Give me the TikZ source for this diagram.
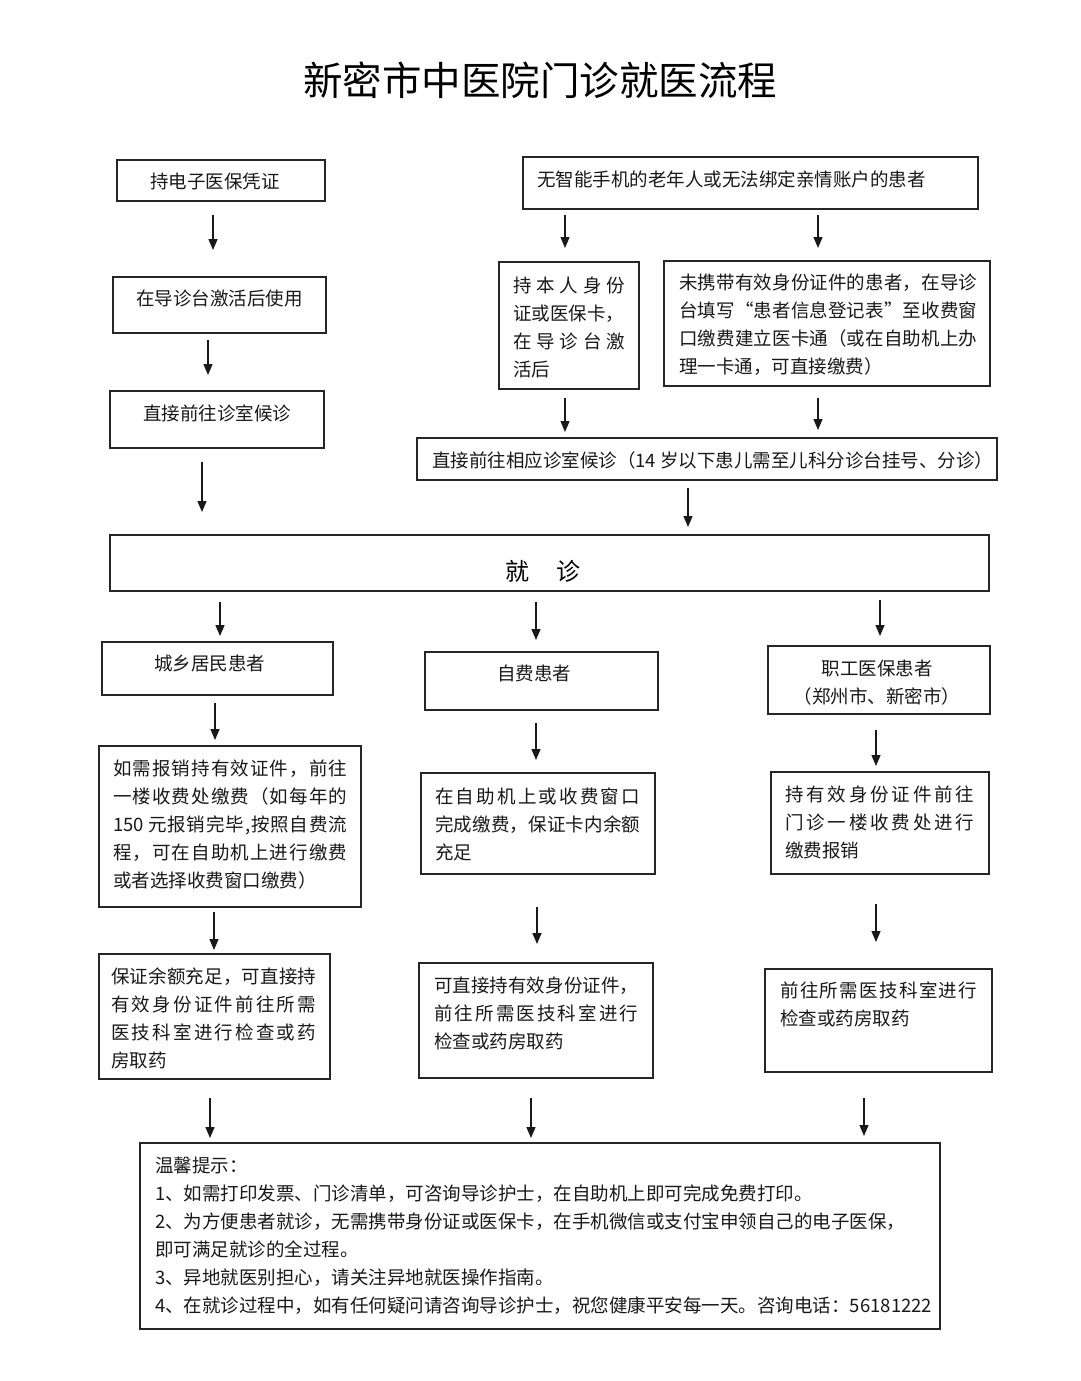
\documentclass[tikz,border=0pt]{standalone}
\usepackage{fontspec}
\setmainfont{Noto Sans CJK SC}
\usetikzlibrary{arrows.meta}
\def\sprd#1{\sprdA#1\relax}
\def\sprdA#1#2{#1\ifx\relax#2\else\hfil\expandafter\sprdA\expandafter#2\fi}
\newcommand\jl[2]{\makebox[#1pt][s]{\sprd{#2}}}
\newcommand\bodyfont{\fontsize{18.5pt}{28pt}\selectfont}
\tikzset{
  box/.style={draw=black!85, line width=1.3pt, rectangle, inner sep=0pt},
  txt/.style={inner sep=0pt, anchor=west, align=left, font=\bodyfont, text=black!90},
  arr/.style={line width=1.3pt, draw=black!90, -{Triangle[length=11pt,width=9pt]}}
}
\newcommand\bx[5]{\node[box,minimum width={#4pt-#2pt},minimum height={#5pt-#3pt}] (#1) at ({(#2+#4)/2},{(#3+#5)/2}) {};}
\newcommand\ar[4]{\coordinate (#1s) at (#2,#3); \coordinate (#1e) at (#2,#4); \draw[arr] (#1s) -- (#1e);}
\begin{document}
\begin{tikzpicture}[x=1pt,y=-1pt]
\fill[white] (0,0) rectangle (1080,1381);
\useasboundingbox (0,0) rectangle (1080,1381);

\node[inner sep=0pt, font=\fontsize{39.5pt}{44pt}\selectfont] (title) at (540,80) {新密市中医院门诊就医流程};

% boxes
\bx{b1}{117}{160}{325}{201}
\bx{b2}{523}{157}{978}{209}
\bx{b3}{113}{277}{326}{333}
\bx{b4}{499}{262}{639}{389}
\bx{b5}{664}{261}{990}{386}
\bx{b6}{110}{391}{324}{448}
\bx{b7}{417}{438}{997}{480}
\bx{b8}{110}{535}{989}{591}
\bx{b9}{102}{642}{333}{695}
\bx{b10}{425}{652}{658}{710}
\bx{b11}{768}{646}{990}{714}
\bx{b12}{99}{746}{361}{907}
\bx{b13}{421}{773}{655}{874}
\bx{b14}{771}{772}{989}{874}
\bx{b15}{99}{954}{330}{1079}
\bx{b16}{419}{963}{653}{1078}
\bx{b17}{765}{969}{992}{1072}
\bx{b18}{140}{1143}{940}{1329}

% texts
\node[txt] (t1) at (150,181) {持电子医保凭证};
\node[txt] (t2) at (537,179) {无智能手机的老年人或无法绑定亲情账户的患者};
\node[txt] (t3) at (136,298) {在导诊台激活后使用};
\node[txt] (t4) at (513,327) {\jl{112}{持本人身份}\\证或医保卡，\\\jl{112}{在导诊台激}\\活后};
\node[txt] (t5) at (679,324.5) {\jl{298}{未携带有效身份证件的患者，在导诊}\\\jl{298}{台填写“患者信息登记表”至收费窗}\\\jl{298}{口缴费建立医卡通（或在自助机上办}\\理一卡通，可直接缴费）};
\node[txt] (t6) at (143,413) {直接前往诊室候诊};
\node[txt] (t7) at (432,460) {直接前往相应诊室候诊（14 岁以下患儿需至儿科分诊台挂号、分诊）};
\node[inner sep=0pt, font=\fontsize{24pt}{28pt}\selectfont] (t8) at (543,571) {就\hspace{28pt}诊};
\node[txt] (t9) at (154,663) {城乡居民患者};
\node[txt] (t10) at (497,673) {自费患者};
\node[txt, anchor=center, align=center] (t11) at (877,683) {职工医保患者\\（郑州市、新密市）};
\node[txt] (t12) at (113,825) {\jl{234}{如需报销持有效证件，前往}\\\jl{234}{一楼收费处缴费（如每年的}\\\makebox[234pt][s]{150 \sprd{元报销完毕,按照自费流}}\\\jl{234}{程，可在自助机上进行缴费}\\或者选择收费窗口缴费）};
\node[txt] (t13) at (435,824) {\jl{205}{在自助机上或收费窗口}\\\jl{205}{完成缴费，保证卡内余额}\\充足};
\node[txt] (t14) at (785,822) {\jl{189}{持有效身份证件前往}\\\jl{189}{门诊一楼收费处进行}\\缴费报销};
\node[txt] (t15) at (111,1018.5) {\jl{205}{保证余额充足，可直接持}\\\jl{205}{有效身份证件前往所需}\\\jl{205}{医技科室进行检查或药}\\房取药};
\node[txt] (t16) at (434,1013) {\jl{204}{可直接持有效身份证件，}\\\jl{204}{前往所需医技科室进行}\\检查或药房取药};
\node[txt] (t17) at (780,1004.5) {\jl{197}{前往所需医技科室进行}\\检查或药房取药};
\node[txt] (t18) at (155,1236) {温馨提示：\\1、如需打印发票、门诊清单，可咨询导诊护士，在自助机上即可完成免费打印。\\2、为方便患者就诊，无需携带身份证或医保卡，在手机微信或支付宝申领自己的电子医保，\\即可满足就诊的全过程。\\3、异地就医别担心，请关注异地就医操作指南。\\4、在就诊过程中，如有任何疑问请咨询导诊护士，祝您健康平安每一天。咨询电话：56181222};

% arrows
\ar{a1}{213}{215}{250}
\ar{a2}{565}{215}{248}
\ar{a3}{818}{215}{248}
\ar{a4}{208}{340}{375}
\ar{a5}{565}{398}{432}
\ar{a6}{818}{398}{430}
\ar{a7}{202}{462}{512}
\ar{a8}{688}{488}{527}
\ar{a9}{220}{602}{636}
\ar{a10}{536}{602}{640}
\ar{a11}{880}{600}{636}
\ar{a12}{215}{703}{740}
\ar{a13}{536}{723}{760}
\ar{a14}{876}{730}{766}
\ar{a15}{214}{912}{950}
\ar{a16}{537}{907}{944}
\ar{a17}{876}{904}{942}
\ar{a18}{210}{1098}{1138}
\ar{a19}{531}{1098}{1138}
\ar{a20}{864}{1098}{1136}
\end{tikzpicture}
\end{document}
